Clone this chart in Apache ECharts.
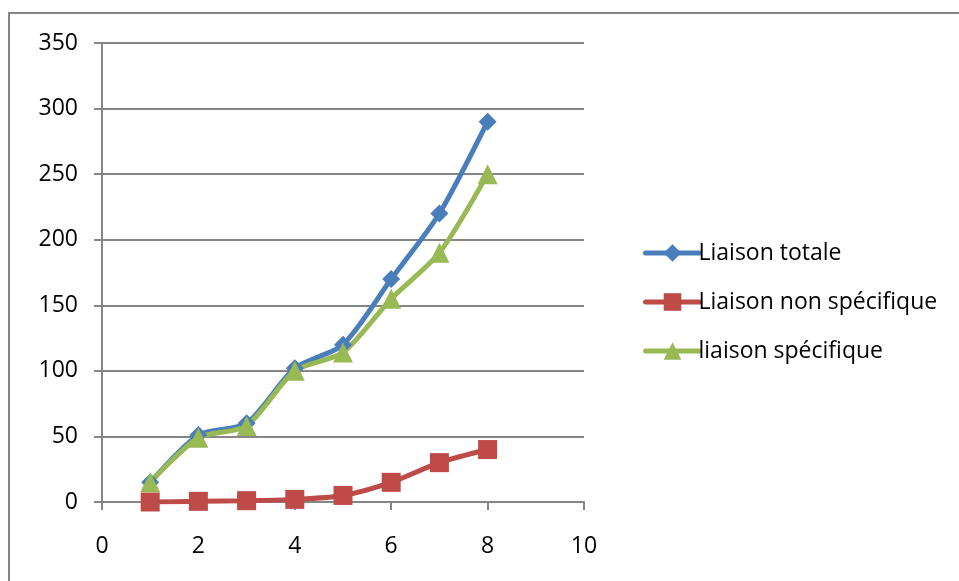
<!DOCTYPE html>
<html>
<head>
<meta charset="utf-8">
<script src="https://cdn.jsdelivr.net/npm/echarts@6/dist/echarts.min.js"></script>
<style>
  html, body { margin: 0; padding: 0; background: #fff; }
  #chart { width: 959px; height: 581px; }
</style>
</head>
<body>
<div id="chart"></div>
<script>
// Binding measurements per point
const xValues = [1, 2, 3, 4, 5, 6, 7, 8];
const liaisonTotale = [15, 51, 60, 102, 120, 170, 220, 290];
const liaisonNonSpecifique = [0, 0.5, 1, 2, 5, 15, 30, 40];
const liaisonSpecifique = [15, 49, 58, 100, 114, 155, 190, 250];
const seriesNames = ['Liaison totale', 'Liaison non spécifique', 'liaison spécifique'];

const pairs = (ys) => xValues.map((x, i) => [x, ys[i]]);

const font = '"Open Sans", "Liberation Sans", sans-serif';
const gridGray = '#868686';

const chart = echarts.init(document.getElementById('chart'), null, { renderer: 'canvas' });
chart.setOption({
  backgroundColor: '#ffffff',
  animation: false,
  graphic: [{
    type: 'rect',
    shape: { x: 9, y: 13, width: 980, height: 600 },
    style: { fill: 'none', stroke: gridGray, lineWidth: 2 },
    silent: true
  }],
  grid: { left: 102, right: 375, top: 43, bottom: 79, containLabel: false },
  xAxis: {
    type: 'value', min: 0, max: 10, interval: 2,
    axisLine: { show: true, onZero: false, lineStyle: { color: gridGray, width: 2 } },
    axisTick: { show: true, length: 8, lineStyle: { color: gridGray, width: 2 } },
    splitLine: { show: false },
    axisLabel: { color: '#000', fontFamily: font, fontSize: 23, margin: 33 }
  },
  yAxis: {
    type: 'value', min: 0, max: 350, interval: 50,
    axisLine: { show: true, lineStyle: { color: gridGray, width: 2 } },
    axisTick: { show: true, length: 8, lineStyle: { color: gridGray, width: 2 } },
    splitLine: { show: true, lineStyle: { color: gridGray, width: 2 } },
    axisLabel: { color: '#000', fontFamily: font, fontSize: 23, margin: 24 }
  },
  legend: {
    orient: 'vertical',
    left: 638, top: 235,
    itemWidth: 54, itemHeight: 22, itemGap: 23,
    lineStyle: { width: 5, cap: 'round' },
    textStyle: { color: '#000', fontFamily: font, fontSize: 23, lineHeight: 26, padding: [0, 0, 0, -6] },
    data: seriesNames
  },
  series: [
    {
      name: seriesNames[0], type: 'line', smooth: 0.25,
      data: pairs(liaisonTotale),
      symbol: 'diamond', symbolSize: 18,
      lineStyle: { color: '#4a7ebb', width: 5, cap: 'round' },
      itemStyle: { color: '#4a7ebb' }
    },
    {
      name: seriesNames[1], type: 'line', smooth: 0.25,
      data: pairs(liaisonNonSpecifique),
      symbol: 'rect', symbolSize: 19,
      lineStyle: { color: '#be4b48', width: 5, cap: 'round' },
      itemStyle: { color: '#be4b48' }
    },
    {
      name: seriesNames[2], type: 'line', smooth: 0.25,
      data: pairs(liaisonSpecifique),
      symbol: 'triangle', symbolSize: 20,
      lineStyle: { color: '#98b954', width: 5, cap: 'round' },
      itemStyle: { color: '#98b954' }
    }
  ]
});
</script>
</body>
</html>
